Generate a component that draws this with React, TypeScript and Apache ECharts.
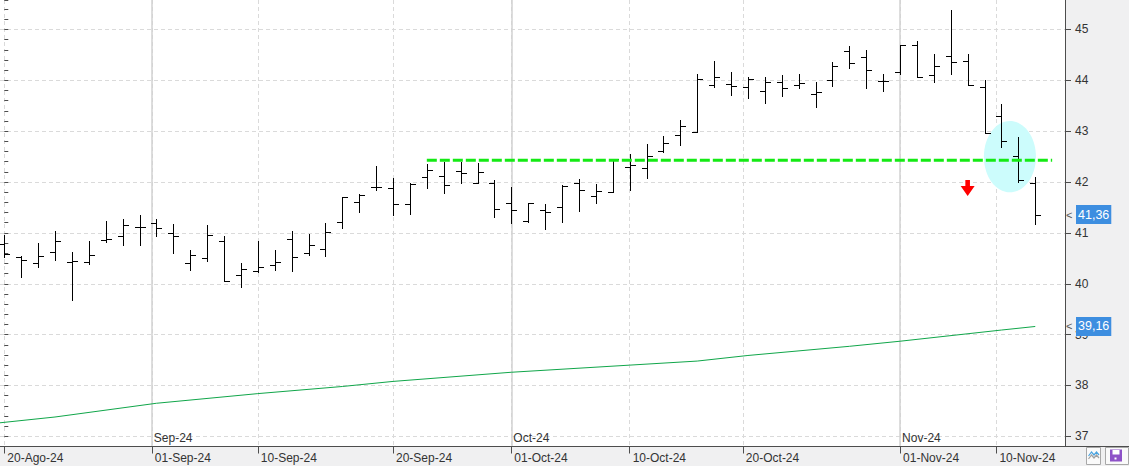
import React, { useEffect, useRef } from 'react';
import * as echarts from 'echarts';

// Trading days shown (bar index = position in this list)
const dates = [
  '2024-08-20', '2024-08-21', '2024-08-22', '2024-08-23', '2024-08-26', '2024-08-27', '2024-08-28', '2024-08-29', '2024-08-30',
  '2024-09-02', '2024-09-03', '2024-09-04', '2024-09-05', '2024-09-06', '2024-09-09', '2024-09-10', '2024-09-11', '2024-09-12',
  '2024-09-13', '2024-09-16', '2024-09-17', '2024-09-18', '2024-09-19', '2024-09-20', '2024-09-23', '2024-09-24', '2024-09-25',
  '2024-09-26', '2024-09-27', '2024-09-30', '2024-10-01', '2024-10-02', '2024-10-03', '2024-10-04', '2024-10-07', '2024-10-08',
  '2024-10-09', '2024-10-10', '2024-10-11', '2024-10-14', '2024-10-15', '2024-10-16', '2024-10-17', '2024-10-18', '2024-10-21',
  '2024-10-22', '2024-10-23', '2024-10-24', '2024-10-25', '2024-10-28', '2024-10-29', '2024-10-30', '2024-10-31', '2024-11-01',
  '2024-11-04', '2024-11-05', '2024-11-06', '2024-11-07', '2024-11-08', '2024-11-11', '2024-11-12', '2024-11-13',
];

const opens = [
  40.79, 40.52, 40.40, 40.62, 40.42, 40.42, 40.87, 40.93, 41.11, 41.20,
  40.99, 40.40, 40.51, 40.85, 40.18, 40.25, 40.37, 40.89, 40.61, 40.69,
  41.21, 41.60, 41.91, 41.89, 41.56, 42.09, 42.12, 42.22, 41.99, 41.99,
  41.58, 41.24, 41.46, 41.50, 41.99, 41.72, 41.81, 42.29, 42.27, 42.62,
  42.92, 42.99, 43.91, 43.92, 43.86, 43.80, 43.96, 43.90, 43.74, 44.00,
  44.58, 44.45, 43.99, 44.17, 44.69, 44.10, 44.47, 44.39, 43.86, 43.30,
  42.51, 41.99,
];
const highs = [
  40.96, 40.54, 40.80, 41.03, 40.62, 40.84, 41.23, 41.28, 41.35, 41.27,
  41.18, 40.67, 41.15, 40.93, 40.40, 40.84, 40.67, 41.03, 40.97, 41.19,
  41.71, 41.77, 42.31, 42.07, 41.98, 42.35, 42.39, 42.40, 42.38, 42.05,
  41.91, 41.59, 41.56, 41.95, 42.06, 41.96, 42.46, 42.55, 42.74, 42.90,
  43.22, 44.12, 44.38, 44.16, 44.06, 44.06, 44.10, 44.12, 43.96, 44.37,
  44.67, 44.59, 44.13, 44.69, 44.77, 44.51, 45.38, 44.51, 44.00, 43.54,
  42.89, 42.09,
];
const lows = [
  40.52, 40.14, 40.33, 40.46, 39.69, 40.38, 40.83, 40.77, 40.77, 40.93,
  40.61, 40.28, 40.44, 40.05, 39.94, 40.23, 40.28, 40.25, 40.56, 40.55,
  41.10, 41.41, 41.85, 41.36, 41.38, 41.89, 41.79, 41.98, 41.99, 41.32,
  41.20, 41.22, 41.08, 41.21, 41.43, 41.59, 41.81, 41.85, 42.08, 42.60,
  42.73, 42.99, 43.87, 43.72, 43.66, 43.56, 43.70, 43.84, 43.48, 43.89,
  44.25, 43.85, 43.79, 44.13, 44.06, 43.96, 44.13, 43.90, 42.97, 42.69,
  42.01, 41.18,
];
const closes = [
  40.58, 40.46, 40.54, 40.85, 40.44, 40.56, 40.88, 41.15, 41.12, 41.09,
  40.93, 40.56, 40.95, 40.05, 40.30, 40.32, 40.42, 40.52, 40.77, 41.01,
  41.70, 41.74, 41.91, 41.56, 41.97, 42.23, 41.94, 42.17, 42.19, 41.48,
  41.46, 41.58, 41.42, 41.93, 41.85, 41.83, 42.46, 42.33, 42.52, 42.76,
  43.11, 44.03, 44.06, 43.89, 44.02, 43.96, 43.84, 43.94, 43.77, 44.29,
  44.35, 44.21, 43.99, 44.69, 44.06, 44.29, 44.37, 43.90, 42.97, 42.80,
  42.04, 41.36,
];

// Moving average read at these bar positions: [bar index, value]
const maPoints = [
  [-1, 37.24], [3, 37.38], [9, 37.65], [15, 37.84], [20, 37.98], [23, 38.08], [30, 38.26],
  [37, 38.40], [41, 38.48], [44, 38.59], [50, 38.77], [53, 38.87], [59, 39.09], [61, 39.16],
];

// Horizontal resistance/support level (dashed green)
const levelValue = 42.43;
const levelFrom = 25;
const levelTo = 62;

// Annotations: ellipse [centre index, centre price, radius in bars, radius in price], arrow [index, price of top]
const ellipseMarks = [[59.5, 42.5, 1.54, 0.7]];
const arrowMarks = [[57, 42.04]];

// Axis ticks
const xTickPos = [0, 8.73, 15, 23, 30, 37, 43.7, 53, 58.7];
const xTickLabels = ['20-Ago-24', '01-Sep-24', '10-Sep-24', '20-Sep-24', '01-Oct-24', '10-Oct-24', '20-Oct-24', '01-Nov-24', '10-Nov-24'];
const monthPos = [8.73, 30, 53];
const monthLabels = ['Sep-24', 'Oct-24', 'Nov-24'];
const yTickValues = [37, 38, 39, 40, 41, 42, 43, 44, 45];

const X_MIN = -0.254;
const X_MAX = 62.76;
const Y_MIN = 36.8;
const Y_MAX = 45.58;

const FONT = 'Liberation Sans, Arial, sans-serif';

function lookup(pos: number[], labels: string[], v: number) {
  for (let k = 0; k < pos.length; k++) {
    if (Math.abs(pos[k] - v) < 1e-6) return labels[k];
  }
  return '';
}

function fmtPrice(v: number) {
  return v.toFixed(2).replace('.', ',');
}

export default function App() {
  const ref = useRef<HTMLDivElement>(null);

  useEffect(() => {
    document.body.style.margin = '0';
    const chart = echarts.init(ref.current!, null, { renderer: 'svg' });

    const ohlcData = dates.map((_, i) => [i, opens[i], highs[i], lows[i], closes[i]]);
    const lastClose = closes[closes.length - 1];
    const lastMA = maPoints[maPoints.length - 1][1];

    const priceLabel = (v: number) => ({
      yAxis: v,
      lineStyle: { color: 'rgba(0,0,0,0)', width: 0.01 },
      label: {
        show: true,
        position: 'end',
        distance: 0,
        formatter: '{a|<}{b|' + fmtPrice(v) + '}',
        rich: {
          a: { color: '#555555', fontSize: 11, width: 10, padding: [0, 0, 0, 1], fontFamily: FONT },
          b: {
            backgroundColor: '#3d8ee0',
            color: '#ffffff',
            fontSize: 12.5,
            fontFamily: FONT,
            padding: [3, 2, 3, 2],
            lineHeight: 13,
          },
        },
      },
    });

    const option: any = {
      animation: false,
      backgroundColor: '#f0f0f1',
      textStyle: { fontFamily: FONT },
      grid: {
        left: 0,
        right: 64,
        top: 0,
        bottom: 19.5,
        show: true,
        backgroundColor: '#ffffff',
        borderWidth: 0,
      },
      xAxis: [
        {
          type: 'value',
          min: X_MIN,
          max: X_MAX,
          position: 'bottom',
          axisLine: { show: true, onZero: false, lineStyle: { color: '#4d4d4d', width: 1 } },
          axisTick: { show: true, customValues: xTickPos, length: 7, lineStyle: { color: '#4d4d4d' } },
          axisLabel: {
            show: true,
            customValues: xTickPos,
            formatter: (v: number) => lookup(xTickPos, xTickLabels, v),
            align: 'left',
            margin: 5,
            padding: [0, 0, 0, 3],
            fontSize: 12,
            color: '#333333',
          },
          splitLine: { show: true, lineStyle: { color: '#dadada', type: [4, 3], width: 1 } },
        },
        {
          type: 'value',
          min: X_MIN,
          max: X_MAX,
          position: 'bottom',
          axisLine: { show: false },
          axisTick: { show: false, customValues: monthPos },
          axisLabel: {
            show: true,
            inside: true,
            customValues: monthPos,
            formatter: (v: number) => lookup(monthPos, monthLabels, v),
            align: 'left',
            margin: 3,
            padding: [0, 0, 0, 2],
            fontSize: 12,
            color: '#333333',
          },
          splitLine: { show: true, lineStyle: { color: '#d2d2d2', type: 'solid', width: 1.5 } },
        },
      ],
      yAxis: [
        {
          type: 'value',
          position: 'right',
          min: Y_MIN,
          max: Y_MAX,
          axisLine: { show: true, onZero: false, lineStyle: { color: '#4d4d4d', width: 1 } },
          axisTick: { show: true, customValues: yTickValues, length: 6, lineStyle: { color: '#4d4d4d' } },
          axisLabel: {
            show: true,
            customValues: yTickValues,
            margin: 10,
            fontSize: 12,
            color: '#333333',
            formatter: (v: number) => String(v),
          },
          splitLine: { show: true, lineStyle: { color: '#dadada', type: [4, 3], width: 1 } },
        },
        {
          type: 'value',
          position: 'right',
          min: Y_MIN,
          max: Y_MAX,
          interval: 0.2,
          axisLine: { show: false },
          axisTick: { show: true, length: 4, lineStyle: { color: '#4d4d4d' } },
          axisLabel: { show: false },
          splitLine: { show: false },
        },
      ],
      series: [
        {
          type: 'custom',
          name: 'highlight',
          silent: true,
          xAxisIndex: 0,
          yAxisIndex: 0,
          data: ellipseMarks,
          renderItem: (params: any, api: any) => {
            const c = api.coord([api.value(0), api.value(1)]);
            const s = api.size([api.value(2), api.value(3)]);
            return {
              type: 'ellipse',
              shape: { cx: c[0], cy: c[1], rx: s[0], ry: s[1] },
              style: { fill: '#ccfcfc', stroke: null },
            };
          },
        },
        {
          type: 'custom',
          name: 'OHLC',
          silent: true,
          xAxisIndex: 0,
          yAxisIndex: 0,
          data: ohlcData,
          encode: { x: 0, y: [1, 2, 3, 4] },
          renderItem: (params: any, api: any) => {
            const i = api.value(0);
            const pO = api.coord([i, api.value(1)]);
            const pH = api.coord([i, api.value(2)]);
            const pL = api.coord([i, api.value(3)]);
            const pC = api.coord([i, api.value(4)]);
            const x = Math.round(pH[0]) + 0.5;
            const yO = Math.round(pO[1]) + 0.5;
            const yC = Math.round(pC[1]) + 0.5;
            const st = { stroke: '#000000', lineWidth: 1 };
            return {
              type: 'group',
              children: [
                { type: 'line', shape: { x1: x, y1: Math.round(pH[1]), x2: x, y2: Math.round(pL[1]) + 1 }, style: st },
                { type: 'line', shape: { x1: x - 5.5, y1: yO, x2: x, y2: yO }, style: st },
                { type: 'line', shape: { x1: x, y1: yC, x2: x + 5.5, y2: yC }, style: st },
              ],
            };
          },
        },
        {
          type: 'custom',
          name: 'arrow',
          silent: true,
          xAxisIndex: 0,
          yAxisIndex: 0,
          data: arrowMarks,
          renderItem: (params: any, api: any) => {
            const p = api.coord([api.value(0), api.value(1)]);
            const pts = [[-2.3, 0], [2.3, 0], [2.3, 6], [7, 6], [0, 16], [-7, 6], [-2.3, 6]].map((q) => [p[0] + q[0], p[1] + q[1]]);
            return { type: 'polygon', shape: { points: pts }, style: { fill: '#ff0000' } };
          },
        },
        {
          type: 'line',
          name: 'level',
          silent: true,
          xAxisIndex: 0,
          yAxisIndex: 0,
          data: [[levelFrom, levelValue], [levelTo, levelValue]],
          showSymbol: false,
          symbol: 'none',
          lineStyle: { color: '#14ea14', width: 3, type: [10, 3] },
        },
        {
          type: 'line',
          name: 'MA',
          silent: true,
          xAxisIndex: 0,
          yAxisIndex: 0,
          data: maPoints,
          showSymbol: false,
          symbol: 'none',
          lineStyle: { color: '#10a64a', width: 1 },
          markLine: {
            silent: true,
            symbol: ['none', 'none'],
            animation: false,
            z: 10,
            data: [priceLabel(lastClose), priceLabel(lastMA)],
          },
        },
      ],
      graphic: [
        { type: 'line', shape: { x1: 1065, y1: 446.5, x2: 1129, y2: 446.5 }, style: { stroke: '#4d4d4d', lineWidth: 1 } },
        { type: 'rect', shape: { x: 1086.5, y: 447.5, width: 14, height: 17 }, style: { fill: '#fafafa', stroke: '#a8a8a8', lineWidth: 1 } },
        { type: 'polyline', shape: { points: [[1088.5, 456], [1091.5, 452], [1094, 455], [1096.5, 452], [1099, 455]] }, style: { stroke: '#4aa3df', lineWidth: 1.2, fill: null } },
        { type: 'polyline', shape: { points: [[1088.5, 459], [1091.5, 455], [1094, 458], [1096.5, 455], [1099, 458]] }, style: { stroke: '#a0a0a0', lineWidth: 1.2, fill: null } },
        { type: 'rect', shape: { x: 1105.5, y: 447.5, width: 23, height: 17 }, style: { fill: '#fafafa', stroke: '#a8a8a8', lineWidth: 1 } },
        { type: 'rect', shape: { x: 1110, y: 449.5, width: 12, height: 12 }, style: { fill: '#8e52c8' } },
        { type: 'rect', shape: { x: 1112.5, y: 450, width: 7, height: 4.5 }, style: { fill: '#ffffff' } },
        { type: 'rect', shape: { x: 1114.5, y: 457.5, width: 2, height: 2 }, style: { fill: '#ffffff' } },
      ],
    };

    chart.setOption(option);
    return () => chart.dispose();
  }, []);

  return <div ref={ref} style={{ position: 'absolute', left: 0, top: 0, width: 1129, height: 466 }} />;
}
